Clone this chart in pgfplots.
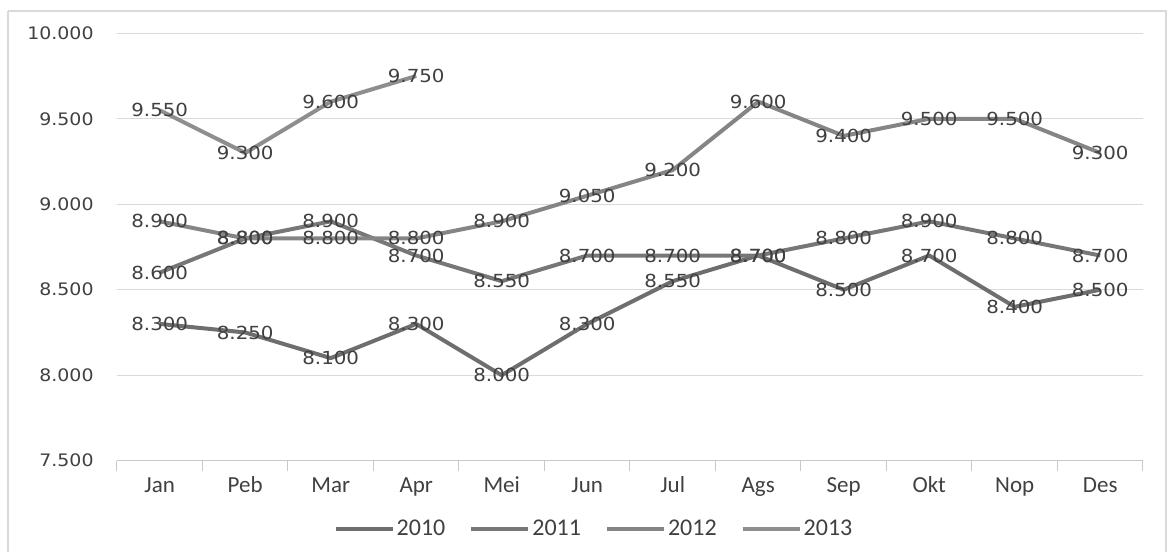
\documentclass[border=0pt]{standalone}
\usepackage{fontspec}
\setmainfont{Carlito}
\newfontfamily\numfont[FakeStretch=1.1]{DejaVu Sans}
\usepackage{pgfplots}
\pgfplotsset{compat=1.18}
\definecolor{cA}{HTML}{6E6E6E}
\definecolor{cB}{HTML}{777777}
\definecolor{cC}{HTML}{858585}
\definecolor{cD}{HTML}{8E8E8E}
\definecolor{gridc}{HTML}{DADADA}
\definecolor{axc}{HTML}{C8C8C8}
\definecolor{txt}{HTML}{404040}
\begin{document}
\begin{tikzpicture}
\begin{axis}[
  scale only axis,
  width=513pt, height=213.7pt,
  xmin=0.5, xmax=12.5,
  ymin=7500, ymax=10000,
  ytick={7500,8000,8500,9000,9500,10000},
  xtick={1,...,12},
  xticklabels={Jan,Peb,Mar,Apr,Mei,Jun,Jul,Ags,Sep,Okt,Nop,Des},
  minor xtick={0.5,1.5,...,12.5},
  scaled y ticks=false,
  axis x line*=bottom,
  axis y line*=left,
  y axis line style={draw=none},
  x axis line style={draw=axc, line width=0.6pt},
  tick align=outside,
  major tick length=0pt,
  minor tick length=5pt,
  minor tick style={draw=axc, line width=0.5pt},
  ymajorgrids,
  grid style={draw=gridc, line width=0.6pt},
  /pgf/number format/.cd, 1000 sep={.}, fixed, assume math mode=true,
  /pgfplots/.cd,
  yticklabel style={font=\numfont\fontsize{8.6}{10}\selectfont, text=txt, anchor=east, inner sep=0pt, xshift=-11.5pt},
  xticklabel style={font=\fontsize{11.5}{13}\selectfont, text=txt, anchor=base, yshift=-15.8pt},
  nodes near coords,
  nodes near coords align=center,
  every node near coord/.append style={font=\numfont\fontsize{9}{10}\selectfont, text=txt, inner sep=0pt},
  clip=false,
  legend columns=4,
  legend style={draw=none, fill=none, at={(0.465,-0.16)}, anchor=center,
    font=\fontsize{12}{14}\selectfont, text=txt,
    /tikz/every even column/.append style={column sep=11pt},
    nodes={inner sep=1pt}},
  legend image code/.code={\draw[#1] (0pt,0pt) -- (28.5pt,0pt);},
]
\addplot[cA, line width=2pt] coordinates {(1,8300) (2,8250) (3,8100) (4,8300) (5,8000) (6,8300) (7,8550) (8,8700) (9,8500) (10,8700) (11,8400) (12,8500)};
\addlegendentry{2010}
\addplot[cB, line width=2pt] coordinates {(1,8600) (2,8800) (3,8900) (4,8700) (5,8550) (6,8700) (7,8700) (8,8700) (9,8800) (10,8900) (11,8800) (12,8700)};
\addlegendentry{2011}
\addplot[cC, line width=2pt] coordinates {(1,8900) (2,8800) (3,8800) (4,8800) (5,8900) (6,9050) (7,9200) (8,9600) (9,9400) (10,9500) (11,9500) (12,9300)};
\addlegendentry{2012}
\addplot[cD, line width=2pt] coordinates {(1,9550) (2,9300) (3,9600) (4,9750)};
\addlegendentry{2013}
\draw[gridc, line width=0.8pt] (rel axis cs:-0.1062,1.0522) -- (rel axis cs:1.0224,1.0522) -- (rel axis cs:1.0224,-0.2136);
\draw[gridc, line width=0.8pt] (rel axis cs:-0.1062,-0.2136) -- (rel axis cs:-0.1062,1.0522);
\coordinate (bl) at (rel axis cs:-0.1140,-0.2136);
\coordinate (tr) at (rel axis cs:1.0244,1.0779);
\end{axis}
\pgfresetboundingbox
\path[use as bounding box] (bl) rectangle (tr);
\end{tikzpicture}
\end{document}
